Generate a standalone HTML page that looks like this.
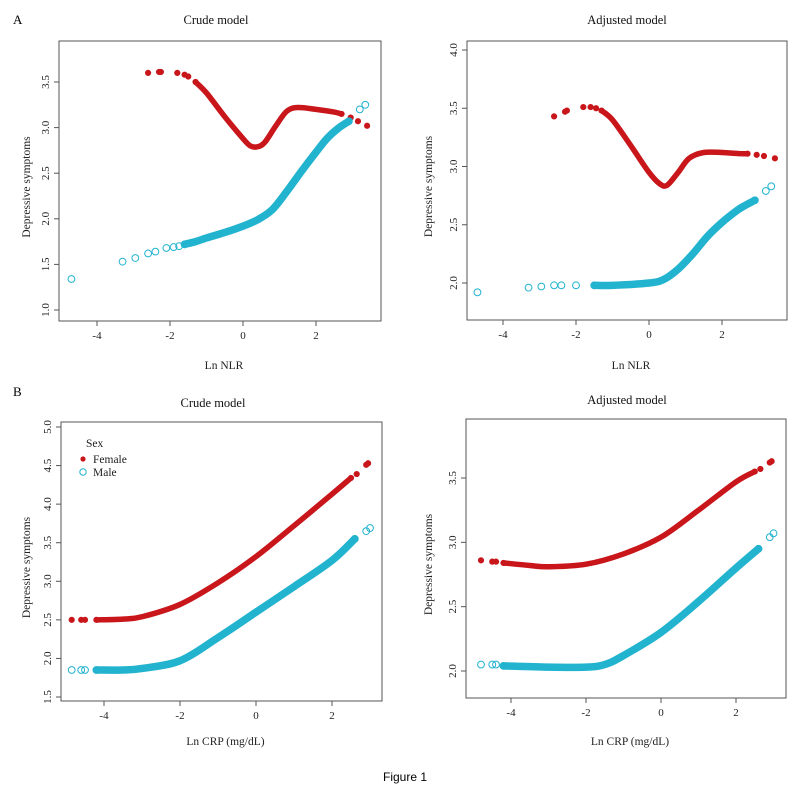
<!DOCTYPE html>
<html><head><meta charset="utf-8"><style>
body{margin:0;background:#fff;}
svg{display:block;font-family:"Liberation Serif",serif;}
</style></head><body>
<svg id="fig" width="804" height="788" viewBox="0 0 804 788" xmlns="http://www.w3.org/2000/svg">
<rect width="804" height="788" fill="#fff"/>
<text x="13" y="24" font-size="13">A</text>
<text x="13" y="396" font-size="13">B</text>
<text x="405" y="781" font-size="12" text-anchor="middle" font-family="Liberation Sans, sans-serif">Figure 1</text>
</svg>
<script>
// ---- data ----
const a1FemaleX=[-2.6,-2.3,-2.25,-1.8,-1.6,-1.5,-1.3,-1,-0.5,0,0.2,0.4,0.6,0.9,1.2,1.5,2,2.5,2.7,2.95,3.15,3.4];
const a1FemaleY=[3.60,3.61,3.61,3.60,3.58,3.56,3.5,3.38,3.12,2.88,2.80,2.79,2.84,3.02,3.18,3.22,3.2,3.17,3.15,3.11,3.07,3.02];
const a1MaleX=[-4.7,-3.3,-2.95,-2.6,-2.4,-2.1,-1.9,-1.75,-1.6,-1.3,-1,-0.5,0,0.4,0.8,1.2,1.6,2,2.3,2.6,2.9,3.2,3.35];
const a1MaleY=[1.34,1.53,1.57,1.62,1.64,1.68,1.69,1.70,1.72,1.75,1.79,1.85,1.92,1.99,2.10,2.30,2.52,2.73,2.88,2.99,3.07,3.20,3.25];
const a2FemaleX=[-2.6,-2.3,-2.25,-1.8,-1.6,-1.45,-1.3,-1,-0.5,0,0.3,0.5,0.8,1.1,1.5,2,2.5,2.7,2.95,3.15,3.45];
const a2FemaleY=[3.43,3.47,3.48,3.51,3.51,3.50,3.48,3.40,3.18,2.95,2.85,2.84,2.95,3.07,3.12,3.12,3.11,3.11,3.10,3.09,3.07];
const a2MaleX=[-4.7,-3.3,-2.95,-2.6,-2.4,-2,-1.5,-1,0,0.4,0.8,1.2,1.6,2,2.4,2.6,2.9,3.2,3.35];
const a2MaleY=[1.92,1.96,1.97,1.98,1.98,1.98,1.98,1.98,2.00,2.03,2.12,2.25,2.40,2.52,2.62,2.66,2.71,2.79,2.83];
const b1FemaleX=[-4.85,-4.6,-4.5,-4.2,-3.5,-3,-2,-1,0,1,2,2.5,2.65,2.9,2.95];
const b1FemaleY=[2.50,2.50,2.50,2.50,2.51,2.54,2.70,2.98,3.32,3.72,4.13,4.34,4.39,4.51,4.53];
const b1MaleX=[-4.85,-4.6,-4.5,-4.2,-3.5,-3,-2,-1,0,1,2,2.6,2.9,3.0];
const b1MaleY=[1.85,1.85,1.85,1.85,1.85,1.87,1.97,2.27,2.60,2.93,3.27,3.55,3.65,3.69];
const b2FemaleX=[-4.8,-4.5,-4.4,-4.2,-3.5,-3,-2,-1,0,1,2,2.5,2.65,2.9,2.95];
const b2FemaleY=[2.86,2.85,2.85,2.84,2.82,2.81,2.83,2.91,3.04,3.25,3.47,3.55,3.57,3.62,3.63];
const b2MaleX=[-4.8,-4.5,-4.4,-4.2,-3,-2,-1.5,-1,0,1,2,2.6,2.9,3.0];
const b2MaleY=[2.05,2.05,2.05,2.04,2.03,2.03,2.05,2.12,2.30,2.54,2.80,2.95,3.04,3.07];
const nlrXTicks=[-4,-2,0,2];
const crpXTicks=[-4,-2,0,2];
const a1YTicks=["1.0","1.5","2.0","2.5","3.0","3.5"];
const a2YTicks=["2.0","2.5","3.0","3.5","4.0"];
const b1YTicks=["1.5","2.0","2.5","3.0","3.5","4.0","4.5","5.0"];
const b2YTicks=["2.0","2.5","3.0","3.5"];

const NS="http://www.w3.org/2000/svg";
const svg=document.getElementById('fig');
function mk(tag,attrs,parent){const e=document.createElementNS(NS,tag);for(const k in attrs)e.setAttribute(k,attrs[k]);(parent||svg).appendChild(e);return e;}
const RED="#c8161b", CYAN="#22b3cf";

function smoothPath(p){
  let d=`M${p[0][0]},${p[0][1]}`;
  for(let i=0;i<p.length-1;i++){
    const p0=p[i-1]||p[i],p1=p[i],p2=p[i+1],p3=p[i+2]||p[i+1];
    const c1=[p1[0]+(p2[0]-p0[0])/6,p1[1]+(p2[1]-p0[1])/6];
    const c2=[p2[0]-(p3[0]-p1[0])/6,p2[1]-(p3[1]-p1[1])/6];
    d+=` C${c1[0]},${c1[1]} ${c2[0]},${c2[1]} ${p2[0]},${p2[1]}`;
  }
  return d;
}

function panel(cfg){
  const g=mk('g',{});
  
  
  const sx=v=>cfg.x0+(v-cfg.xa)*(cfg.x1-cfg.x0)/(cfg.xb-cfg.xa);
  const sy=v=>cfg.y0+(v-cfg.ya)*(cfg.y1-cfg.y0)/(cfg.yb-cfg.ya);
  const box=mk('rect',{x:cfg.bx,y:cfg.by,width:cfg.bw,height:cfg.bh,fill:'none',stroke:'#555','stroke-width':1},g);
  
  
  const bottom=cfg.by+cfg.bh, left=cfg.bx;
  const xt=cfg.xticks;
  const xl=mk('line',{x1:sx(xt[0]),x2:sx(xt[xt.length-1]),y1:bottom,y2:bottom,stroke:'#555'},g);
  
  
  xt.forEach(t=>{
    mk('line',{x1:sx(t),x2:sx(t),y1:bottom,y2:bottom+5,stroke:'#555'},g);
    const tx=mk('text',{x:sx(t),y:bottom+18,'font-size':11,'text-anchor':'middle',fill:'#222'},g);
    tx.textContent=String(t);
    
    
  });
  const yt=cfg.yticks.map(Number);
  const yl=mk('line',{x1:left,x2:left,y1:sy(yt[0]),y2:sy(yt[yt.length-1]),stroke:'#555'},g);
  
  
  cfg.yticks.forEach(s=>{
    const v=Number(s);
    mk('line',{x1:left-5,x2:left,y1:sy(v),y2:sy(v),stroke:'#555'},g);
    const tx=mk('text',{x:0,y:0,'font-size':11,'text-anchor':'middle',fill:'#222',transform:`translate(${left-10},${sy(v)}) rotate(-90)`},g);
    tx.textContent=s;
    
    
  });
  const title=mk('text',{x:cfg.tx,y:cfg.ty,'font-size':12.5,'text-anchor':'middle',fill:'#111'},g);
  title.textContent=cfg.title;
  
  
  const xlab=mk('text',{x:cfg.bx+cfg.bw/2+4,y:cfg.xly,'font-size':11.5,'text-anchor':'middle',fill:'#222'},g);
  xlab.textContent=cfg.xlabel;
  
  
  const ylab=mk('text',{x:0,y:0,'font-size':11.5,'text-anchor':'middle',fill:'#222',transform:`translate(${cfg.ylx},${cfg.by+cfg.bh/2+6}) rotate(-90)`},g);
  ylab.textContent='Depressive symptoms';
  
  
  cfg.series.forEach(s=>{
    const sg=mk('g',{},g);
    
    
    const pts=[];
    for(let i=s.d0;i<=s.d1;i++)pts.push([sx(s.xs[i]),sy(s.ys[i])]);
    const pl=mk('path',{d:smoothPath(pts),fill:'none',stroke:s.color,'stroke-width':s.filled?5.5:7.5,'stroke-linejoin':'round','stroke-linecap':'round'},sg);
    
    
    s.xs.forEach((xv,i)=>{
      if(i>s.d0&&i<s.d1)return;
      const c=mk('circle',{cx:sx(xv),cy:sy(s.ys[i]),r:s.filled?2.6:3.4,fill:s.filled?s.color:'none',stroke:s.color,'stroke-width':1},sg);
      
      
    });
  });
  return g;
}

panel({name:'panel-a-crude',bx:59,by:41,bw:322,bh:280,x0:243,x1:316,xa:0,xb:2,y0:310,y1:82,ya:1,yb:3.5,
  xticks:nlrXTicks,yticks:a1YTicks,title:'Crude model',tx:216,ty:24,xlabel:'Ln NLR',xly:369,ylx:30,
  series:[{name:'female-series',xs:a1FemaleX,ys:a1FemaleY,color:RED,filled:true,d0:6,d1:18},
          {name:'male-series',xs:a1MaleX,ys:a1MaleY,color:CYAN,filled:false,d0:8,d1:20}]});
panel({name:'panel-a-adjusted',bx:467,by:41,bw:320,bh:279,x0:649,x1:722,xa:0,xb:2,y0:283,y1:50,ya:2,yb:4,
  xticks:nlrXTicks,yticks:a2YTicks,title:'Adjusted model',tx:627,ty:24,xlabel:'Ln NLR',xly:369,ylx:432,
  series:[{name:'female-series',xs:a2FemaleX,ys:a2FemaleY,color:RED,filled:true,d0:6,d1:17},
          {name:'male-series',xs:a2MaleX,ys:a2MaleY,color:CYAN,filled:false,d0:6,d1:16}]});
panel({name:'panel-b-crude',bx:61,by:422,bw:321,bh:279,x0:256,x1:332,xa:0,xb:2,y0:697,y1:427,ya:1.5,yb:5,
  xticks:crpXTicks,yticks:b1YTicks,title:'Crude model',tx:213,ty:407,xlabel:'Ln CRP (mg/dL)',xly:745,ylx:30,
  series:[{name:'female-series',xs:b1FemaleX,ys:b1FemaleY,color:RED,filled:true,d0:3,d1:11},
          {name:'male-series',xs:b1MaleX,ys:b1MaleY,color:CYAN,filled:false,d0:3,d1:11}]});
panel({name:'panel-b-adjusted',bx:466,by:419,bw:320,bh:279,x0:661,x1:736,xa:0,xb:2,y0:671,y1:478,ya:2,yb:3.5,
  xticks:crpXTicks,yticks:b2YTicks,title:'Adjusted model',tx:627,ty:404,xlabel:'Ln CRP (mg/dL)',xly:745,ylx:432,
  series:[{name:'female-series',xs:b2FemaleX,ys:b2FemaleY,color:RED,filled:true,d0:3,d1:11},
          {name:'male-series',xs:b2MaleX,ys:b2MaleY,color:CYAN,filled:false,d0:3,d1:11}]});

const lg=mk('g',{});


const lt=mk('text',{x:86,y:447,'font-size':11.5,fill:'#222'},lg);lt.textContent='Sex';


mk('circle',{cx:83,cy:459,r:2.6,fill:RED},lg);
const lf=mk('text',{x:93,y:463,'font-size':11.5,fill:'#222'},lg);lf.textContent='Female';


mk('circle',{cx:83,cy:472,r:3.2,fill:'none',stroke:CYAN},lg);
const lm=mk('text',{x:93,y:476,'font-size':11.5,fill:'#222'},lg);lm.textContent='Male';


</script>
</body></html>
